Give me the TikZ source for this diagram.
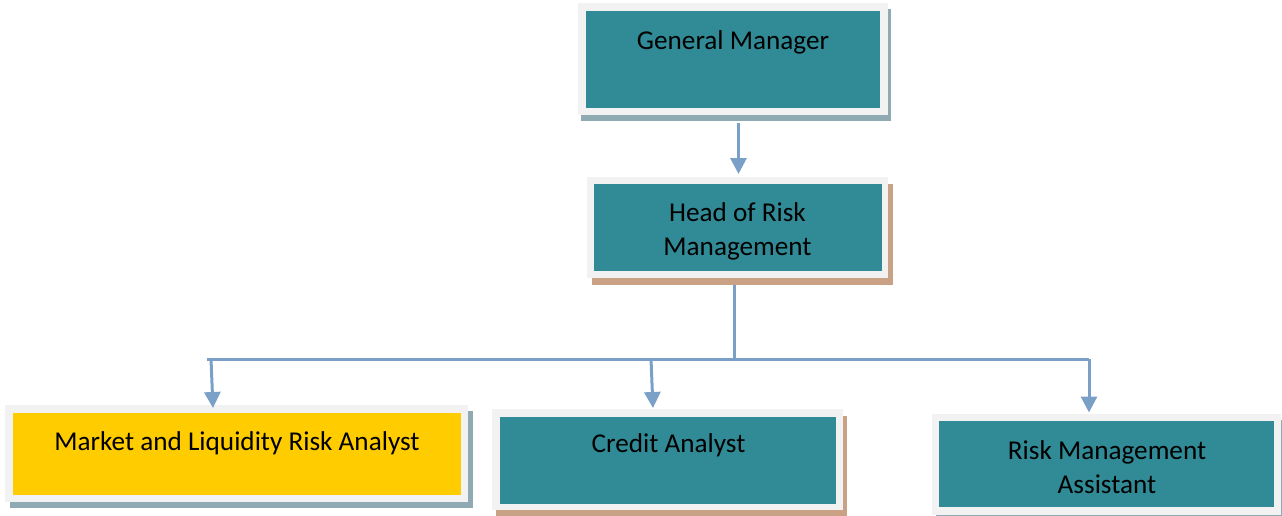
\documentclass[tikz,border=0pt]{standalone}
\usepackage{fontspec}
\setmainfont{Carlito}
\usetikzlibrary{arrows.meta,shadows}
\definecolor{tealbox}{RGB}{49,139,150}
\definecolor{framegray}{RGB}{242,242,242}
\definecolor{shblue}{RGB}{143,170,179}
\definecolor{shtan}{RGB}{201,162,134}
\definecolor{ybox}{RGB}{255,204,0}
\definecolor{conn}{RGB}{122,160,200}
\tikzset{
  frame/.style={fill=framegray, draw=none, inner sep=0pt, outer sep=0pt},
  blueshadow/.style={drop shadow={shadow xshift=#1, shadow yshift=-6pt, fill=shblue, opacity=1}},
  tanshadow/.style={drop shadow={shadow xshift=#1, shadow yshift=-7pt, fill=shtan, opacity=1}},
  inbox/.style={fill=tealbox, draw=none, inner sep=0pt, outer sep=0pt},
  txt/.style={inner sep=0pt, outer sep=0pt, align=center,
    font=\fontsize{27.2}{34}\selectfont, text=black},
  arr/.style={draw=conn, line width=3pt, -{Triangle[width=16pt,length=16pt]}},
  ln/.style={draw=conn, line width=3pt}
}
\begin{document}
\begin{tikzpicture}[x=1pt,y=-1pt]
\useasboundingbox (0,0) rectangle (1282,516);
% General Manager
\node[frame, blueshadow=3pt, minimum width=310pt, minimum height=112pt] (gmf) at (733,59) {};
\node[inbox, minimum width=294pt, minimum height=97pt] (gm) at (733,59.5) {};
\node[txt] (gmt) at (733,42) {General Manager};
% Head of Risk Management
\node[frame, tanshadow=5pt, minimum width=301pt, minimum height=101pt] (hrf) at (737.5,227.5) {};
\node[inbox, minimum width=288pt, minimum height=87pt] (hr) at (738,227.5) {};
\node[txt] (hrt) at (737.5,231.5) {Head of Risk\\Management};
% Market and Liquidity Risk Analyst
\node[frame, blueshadow=5pt, minimum width=463pt, minimum height=97pt] (mkf) at (236.5,453.5) {};
\node[inbox, fill=ybox, minimum width=448pt, minimum height=82pt] (mk) at (237,454) {};
\node[txt] (mkt) at (237,443.5) {Market and Liquidity Risk Analyst};
% Credit Analyst
\node[frame, tanshadow=4pt, minimum width=351pt, minimum height=101pt] (crf) at (667.5,459.5) {};
\node[inbox, minimum width=336pt, minimum height=87pt] (cr) at (668,460.5) {};
\node[txt] (crt) at (668.5,445.5) {Credit Analyst};
% Risk Management Assistant
\node[frame, blueshadow=4pt, minimum width=349pt, minimum height=101pt] (raf) at (1106.5,464) {};
\node[inbox, minimum width=335pt, minimum height=86pt] (ra) at (1106.5,464) {};
\node[txt] (rat) at (1107,467) {Risk Management\\Assistant};
% connectors
\coordinate (a1) at (738.5,123);
\draw[arr, shorten >=3pt] (a1) -- (a1 |- hrf.north);
\coordinate (j) at (734,359);
\draw[ln, shorten <=7pt] (j |- hrf.south) -- (j);
\coordinate (bl) at (207,359);
\coordinate (br) at (1089,359);
\draw[ln] (bl) -- (br);
\coordinate (l1) at (211,359);
\coordinate (lt) at (213,408);
\draw[arr] (l1) -- (lt);
\coordinate (m1) at (651,359);
\coordinate (mt) at (653,408);
\draw[arr] (m1) -- (mt);
\coordinate (rt) at (1089,412.5);
\draw[arr] (br) -- (rt);
\end{tikzpicture}
\end{document}
